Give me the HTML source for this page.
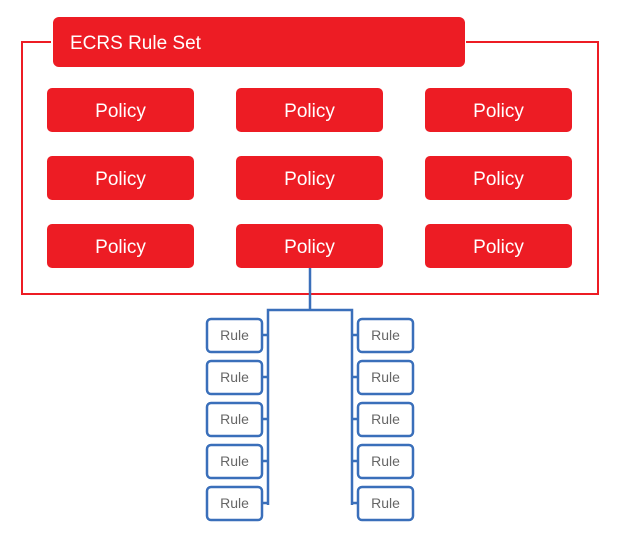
<!DOCTYPE html>
<html><head><style>
body{margin:0;width:622px;height:542px;background:#fff;overflow:hidden}
svg text{font-family:"Liberation Sans",sans-serif}
</style></head><body>
<svg width="622" height="542" viewBox="0 0 622 542">
<path d="M51 42H22V294H598V42H466" fill="none" stroke="#ED1C24" stroke-width="2"/>
<rect x="53" y="17" width="412" height="50" rx="6" fill="#ED1C24"/>
<text x="70" y="49" fill="#fff" font-size="19">ECRS Rule Set</text>
<g fill="#ED1C24">
<rect x="47" y="88" width="147" height="44" rx="5"/><rect x="236" y="88" width="147" height="44" rx="5"/><rect x="425" y="88" width="147" height="44" rx="5"/>
<rect x="47" y="156" width="147" height="44" rx="5"/><rect x="236" y="156" width="147" height="44" rx="5"/><rect x="425" y="156" width="147" height="44" rx="5"/>
<rect x="47" y="224" width="147" height="44" rx="5"/><rect x="236" y="224" width="147" height="44" rx="5"/><rect x="425" y="224" width="147" height="44" rx="5"/>
</g>
<g fill="#fff" font-size="19" text-anchor="middle">
<text x="120.5" y="117">Policy</text><text x="309.5" y="117">Policy</text><text x="498.5" y="117">Policy</text>
<text x="120.5" y="185">Policy</text><text x="309.5" y="185">Policy</text><text x="498.5" y="185">Policy</text>
<text x="120.5" y="253">Policy</text><text x="309.5" y="253">Policy</text><text x="498.5" y="253">Policy</text>
</g>
<g fill="none" stroke="#3A6FBA" stroke-width="2.5">
<path d="M310 268V310M268 505V310H352V505"/>
<path d="M262 335H268M262 377H268M262 419H268M262 461H268M262 503H268"/>
<path d="M352 335H358M352 377H358M352 419H358M352 461H358M352 503H358"/>
<rect x="207" y="319" width="55" height="33" rx="4"/><rect x="207" y="361" width="55" height="33" rx="4"/><rect x="207" y="403" width="55" height="33" rx="4"/><rect x="207" y="445" width="55" height="33" rx="4"/><rect x="207" y="487" width="55" height="33" rx="4"/>
<rect x="358" y="319" width="55" height="33" rx="4"/><rect x="358" y="361" width="55" height="33" rx="4"/><rect x="358" y="403" width="55" height="33" rx="4"/><rect x="358" y="445" width="55" height="33" rx="4"/><rect x="358" y="487" width="55" height="33" rx="4"/>
</g>
<g fill="#666" font-size="14" text-anchor="middle">
<text x="234.5" y="340">Rule</text><text x="234.5" y="382">Rule</text><text x="234.5" y="424">Rule</text><text x="234.5" y="466">Rule</text><text x="234.5" y="508">Rule</text>
<text x="385.5" y="340">Rule</text><text x="385.5" y="382">Rule</text><text x="385.5" y="424">Rule</text><text x="385.5" y="466">Rule</text><text x="385.5" y="508">Rule</text>
</g>
</svg>
</body></html>
